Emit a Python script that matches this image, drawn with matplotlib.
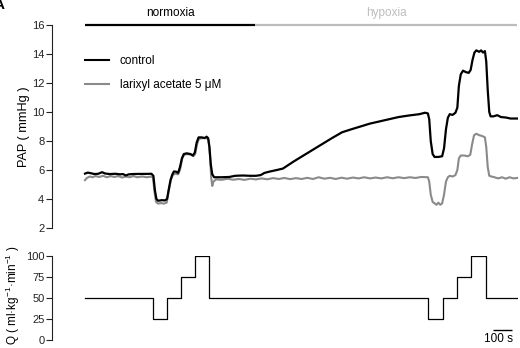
import matplotlib
matplotlib.use("Agg")
import matplotlib.pyplot as plt
from matplotlib.lines import Line2D

plt.rcParams['font.family'] = ['Liberation Sans', 'DejaVu Sans']
plt.rcParams['mathtext.fontset'] = 'custom'
plt.rcParams['mathtext.rm'] = 'Liberation Sans'
plt.rcParams['mathtext.it'] = 'Liberation Sans:italic'

# ---- data (time in s) ----
phase_names = ["normoxia", "hypoxia"]
phase_edges = [0, 895, 2274]

flow_t = [0, 358, 431, 505, 579, 652, 1805, 1884, 1958, 2032, 2111, 2274]
flow_v = [50, 25, 50, 75, 100, 50, 25, 50, 75, 100, 50, 50]

ctrl_t = [0, 15, 30, 50, 70, 90, 105, 130, 160, 185, 200, 215, 230, 250, 280, 320, 350,
          360, 368, 376, 385, 405, 420, 432, 440, 450, 460, 468, 480, 490, 500, 510, 520,
          535, 555, 568, 578, 588, 598, 615, 630, 640, 648, 655, 662, 670, 680, 720, 760,
          790, 830, 870, 900,
          925, 945, 975, 1010, 1042, 1100, 1200, 1300, 1353, 1400, 1450, 1500, 1550, 1600,
          1650, 1700, 1730, 1760, 1790, 1805,
          1812, 1820, 1830, 1840, 1860, 1880, 1890, 1900, 1910, 1920, 1935, 1950, 1960,
          1968, 1978, 1990, 2005, 2020, 2030, 2040, 2050, 2060, 2075, 2085, 2095, 2105,
          2112, 2120, 2128, 2135, 2150, 2170, 2190, 2215, 2240, 2274]
ctrl_v = [5.75, 5.82, 5.78, 5.72, 5.74, 5.85, 5.76, 5.72, 5.74, 5.70, 5.72, 5.62, 5.70, 5.72, 5.73, 5.73, 5.74,
          5.6, 4.6, 4.0, 3.88, 3.92, 3.90, 4.0, 4.6, 5.3, 5.7, 5.9, 5.88, 5.8, 6.2, 6.8, 7.1,
          7.15, 7.1, 7.0, 7.2, 7.9, 8.25, 8.25, 8.2, 8.3, 8.2, 7.6, 6.4, 5.7, 5.5, 5.5, 5.52,
          5.6, 5.62, 5.6, 5.6,
          5.65, 5.8, 5.9, 6.0, 6.1, 6.6, 7.4, 8.2, 8.6, 8.8, 9.0, 9.2, 9.35, 9.5,
          9.65, 9.75, 9.8, 9.85, 9.95, 9.9,
          9.5, 8.0, 7.1, 6.9, 6.9, 6.95, 7.5, 8.8, 9.6, 9.85, 9.8, 9.95, 10.3,
          11.8, 12.6, 12.85, 12.75, 12.7, 12.9, 13.6, 14.1, 14.25, 14.15, 14.25, 14.1, 14.2,
          13.5, 11.5, 10.0, 9.7, 9.7, 9.78, 9.65, 9.62, 9.55, 9.55]

lari_t = [0, 10, 25, 40, 55, 75, 95, 115, 135, 155, 175, 195, 215, 235, 255, 275, 300, 325, 350,
          358, 366, 374, 385, 400, 415, 430, 440, 452, 462, 475, 490, 500, 512, 522, 540,
          560, 570, 580, 590, 600, 620, 640, 650, 658, 664, 670, 676, 690,
          720, 750, 780, 810, 840, 870, 900, 930, 960, 990, 1020, 1050, 1080, 1110, 1140,
          1170, 1200, 1230, 1260, 1290, 1320, 1350, 1380, 1410, 1440, 1470, 1500, 1530,
          1560, 1590, 1620, 1650, 1680, 1710, 1740, 1770, 1805,
          1812, 1820, 1830, 1840, 1850, 1860, 1870, 1880, 1890, 1900, 1910, 1920, 1935,
          1950, 1960, 1968, 1978, 1995, 2015, 2028, 2038, 2048, 2060, 2075, 2090, 2105,
          2112, 2120, 2128, 2140, 2155, 2175, 2195, 2215, 2235, 2255, 2274]
lari_v = [5.3, 5.45, 5.55, 5.5, 5.58, 5.52, 5.6, 5.5, 5.58, 5.52, 5.58, 5.48, 5.55, 5.5, 5.58, 5.5, 5.55, 5.5, 5.55,
          5.45, 4.5, 3.8, 3.68, 3.72, 3.68, 3.75, 4.5, 5.3, 5.65, 5.75, 5.7, 6.0, 6.8, 7.05, 7.1,
          7.05, 6.95, 7.1, 7.8, 8.15, 8.2, 8.2, 8.1, 7.0, 5.5, 4.9, 5.2, 5.35,
          5.32, 5.4, 5.33, 5.38, 5.32, 5.4, 5.35, 5.42, 5.36, 5.44, 5.38, 5.45, 5.37, 5.44, 5.38,
          5.46, 5.38, 5.5, 5.4, 5.46, 5.38, 5.47, 5.4, 5.48, 5.42, 5.5, 5.42, 5.48,
          5.42, 5.5, 5.43, 5.5, 5.44, 5.5, 5.45, 5.52, 5.5,
          5.2, 4.3, 3.8, 3.7, 3.6, 3.75, 3.6, 3.7, 4.3, 5.2, 5.5, 5.6, 5.55,
          5.65, 6.0, 6.8, 7.0, 7.0, 6.95, 7.05, 7.8, 8.4, 8.5, 8.4, 8.35, 8.25,
          7.6, 6.2, 5.6, 5.55, 5.5, 5.42, 5.5, 5.4, 5.5, 5.42, 5.45]

pap_ticks = [2, 4, 6, 8, 10, 12, 14, 16]
q_ticks = [0, 25, 50, 75, 100]

GRAY = "#8a8a8a"
LIGHT = "#bdbdbd"

W, H = 520, 348
fig = plt.figure(figsize=(5.2, 3.48), dpi=100)

left_px, right_px = 52, 518
t0 = (left_px - 85) * 100 / 19.0
t1 = 2274 + (right_px - 517) * 100 / 19.0
axw = right_px - left_px

ax = fig.add_axes([left_px / W, (H - 228) / H, axw / W, 203 / H])
ax2 = fig.add_axes([left_px / W, (H - 340) / H, axw / W, 84 / H])

for a in (ax, ax2):
    for s in ("top", "right", "bottom"):
        a.spines[s].set_visible(False)
    a.spines["left"].set_linewidth(0.8)
    a.spines["left"].set_color("#222222")
    a.set_xlim(t0, t1)
    a.set_xticks([])
    a.tick_params(axis="y", length=4, width=0.8, pad=1.5, labelsize=8, colors="#222222")

ax.plot(lari_t, lari_v, color=GRAY, lw=1.5, solid_joinstyle="round")
ax.plot(ctrl_t, ctrl_v, color="black", lw=1.6, solid_joinstyle="round")
ax.set_ylim(2, 16)
ax.set_yticks(pap_ticks)
ax.spines["left"].set_bounds(2, 16)

# condition bars
ax.plot([phase_edges[0], phase_edges[1]], [16, 16], color="black", lw=1.6, clip_on=False,
        solid_capstyle="butt")
ax.plot([phase_edges[1], phase_edges[2]], [16, 16], color=LIGHT, lw=1.6, clip_on=False,
        solid_capstyle="butt")
ax.text((phase_edges[0] + phase_edges[1]) / 2, 16.85, phase_names[0], ha="center", va="center",
        fontsize=8.5, color="black", clip_on=False)
ax.text((phase_edges[1] + phase_edges[2]) / 2, 16.85, phase_names[1], ha="center", va="center",
        fontsize=8.5, color=LIGHT, clip_on=False)

handles = [Line2D([], [], color="black", lw=1.5), Line2D([], [], color=GRAY, lw=1.5)]
ax.legend(handles, ["control", "larixyl acetate 5 μM"], loc="upper left",
          bbox_to_anchor=((85 - left_px) / axw, (228 - 55) / 203.0),
          frameon=False, fontsize=8.5, handlelength=2.0, handletextpad=0.95,
          labelspacing=1.05, borderpad=0, borderaxespad=0)

ax.set_ylabel("PAP ( mmHg )", fontsize=9.2)
ax.yaxis.set_label_coords((30 - left_px) / axw, 0.5)

ax2.step(flow_t, flow_v, where="post", color="black", lw=0.9)
ax2.set_ylim(0, 100)
ax2.set_yticks(q_ticks)
ax2.spines["left"].set_bounds(0, 100)
ax2.set_ylabel("Q ( ml·kg$^{-1}$·min$^{-1}$ )", fontsize=8.5)
ax2.yaxis.set_label_coords((22 - left_px) / axw, 0.53)

# scale bar 100 s
sb_x0 = (493 - 85) * 100 / 19.0
ax2.plot([sb_x0, sb_x0 + 100], [12, 12], color="black", lw=1.0, clip_on=False,
         solid_capstyle="butt")
ax2.text(sb_x0 + 30, 1.5, "100 s", ha="center", va="center", fontsize=8.5, clip_on=False)

fig.text(-0.012, 1.005, "A", fontsize=11, fontweight="bold", ha="left", va="top")

fig.savefig("out.png", dpi=100)
